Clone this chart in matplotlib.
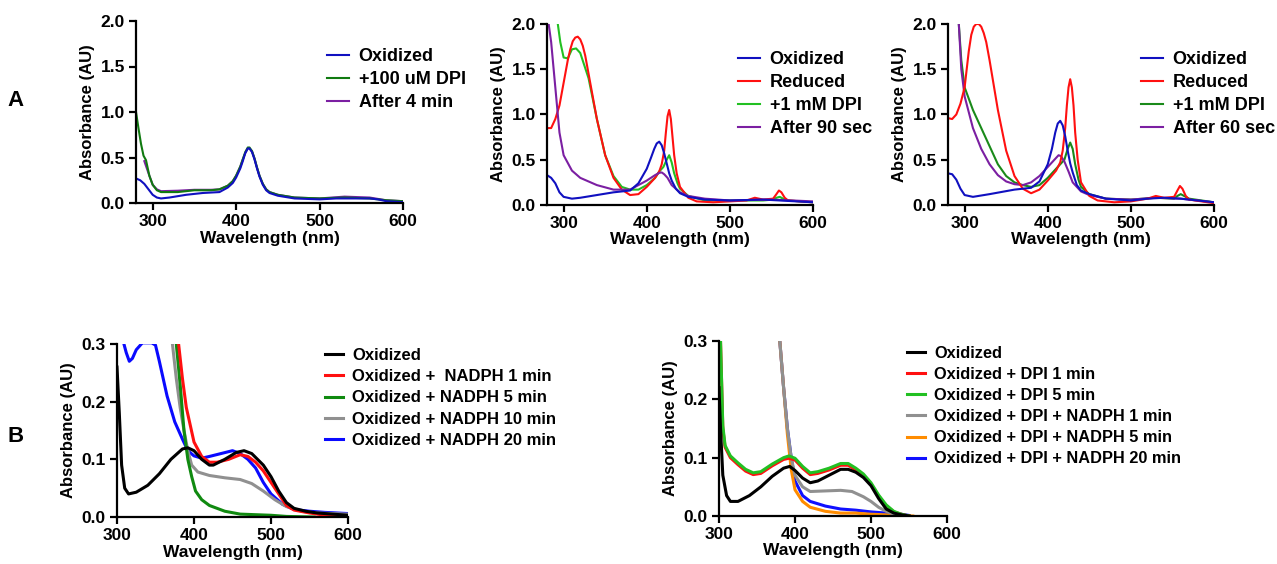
import matplotlib.pyplot as plt

plt.rcParams['font.family'] = ['Liberation Sans', 'DejaVu Sans']
plt.rcParams['font.weight'] = 'bold'

# ---------------- panel A1 ----------------
a1_ox_x = [280, 285, 290, 295, 300, 305, 310, 320, 340, 360, 380, 390, 396, 400, 405, 408, 411, 414, 416, 419, 422, 425, 428, 432, 436, 440, 450, 470, 500, 520, 540, 560, 570, 580, 600]
a1_ox_y = [0.27, 0.25, 0.21, 0.15, 0.09, 0.06, 0.05, 0.06, 0.09, 0.11, 0.12, 0.17, 0.22, 0.28, 0.38, 0.46, 0.55, 0.60, 0.60, 0.56, 0.48, 0.38, 0.29, 0.20, 0.14, 0.11, 0.08, 0.05, 0.04, 0.05, 0.05, 0.05, 0.04, 0.02, 0.01]
a1_dpi_x = [280, 283, 286, 289, 292, 296, 300, 305, 310, 330, 350, 370, 380, 390, 396, 400, 405, 408, 411, 414, 416, 419, 422, 425, 428, 432, 436, 440, 450, 470, 500, 530, 560, 580, 600]
a1_dpi_y = [1.0, 0.82, 0.65, 0.52, 0.47, 0.30, 0.20, 0.14, 0.12, 0.12, 0.14, 0.14, 0.15, 0.19, 0.24, 0.30, 0.40, 0.48, 0.56, 0.61, 0.61, 0.57, 0.49, 0.39, 0.30, 0.21, 0.15, 0.12, 0.09, 0.06, 0.05, 0.06, 0.05, 0.03, 0.02]
a1_4m_x = [290, 296, 300, 305, 310, 330, 350, 370, 380, 390, 396, 400, 405, 408, 411, 414, 416, 419, 422, 425, 428, 432, 436, 440, 450, 470, 500, 530, 560, 580, 600]
a1_4m_y = [0.46, 0.30, 0.20, 0.15, 0.13, 0.135, 0.145, 0.145, 0.15, 0.19, 0.24, 0.30, 0.40, 0.48, 0.55, 0.60, 0.60, 0.57, 0.49, 0.39, 0.30, 0.21, 0.15, 0.12, 0.09, 0.06, 0.05, 0.07, 0.06, 0.03, 0.02]

# ---------------- panel A2 ----------------
a2_ox_x = [280, 285, 290, 295, 300, 310, 320, 340, 360, 380, 390, 400, 405, 409, 412, 415, 418, 421, 424, 427, 430, 435, 440, 450, 470, 500, 540, 560, 580, 600]
a2_ox_y = [0.33, 0.30, 0.24, 0.14, 0.09, 0.07, 0.08, 0.11, 0.14, 0.16, 0.24, 0.40, 0.52, 0.62, 0.68, 0.70, 0.66, 0.57, 0.46, 0.35, 0.27, 0.18, 0.13, 0.09, 0.06, 0.05, 0.06, 0.05, 0.04, 0.03]
a2_red_x = [280, 285, 290, 295, 300, 305, 308, 311, 314, 317, 320, 323, 326, 330, 340, 350, 360, 370, 380, 390, 400, 410, 415, 418, 421, 423, 425, 427, 429, 431, 433, 436, 440, 450, 460, 480, 500, 520, 530, 540, 552, 556, 559, 562, 566, 570, 600]
a2_red_y = [0.85, 0.85, 0.95, 1.10, 1.35, 1.60, 1.72, 1.81, 1.85, 1.86, 1.83, 1.76, 1.65, 1.45, 0.95, 0.55, 0.30, 0.17, 0.11, 0.12, 0.20, 0.30, 0.37, 0.45, 0.60, 0.80, 0.98, 1.05, 0.95, 0.75, 0.55, 0.35, 0.20, 0.08, 0.04, 0.03, 0.04, 0.05, 0.08, 0.06, 0.07, 0.12, 0.16, 0.14, 0.08, 0.05, 0.03]
a2_dpi_x = [293, 296, 300, 305, 310, 315, 320, 330, 340, 350, 360, 370, 380, 390, 400, 410, 415, 420, 424, 427, 430, 433, 437, 440, 450, 470, 500, 540, 552, 556, 560, 564, 570, 600]
a2_dpi_y = [2.0, 1.80, 1.63, 1.62, 1.72, 1.73, 1.68, 1.40, 0.95, 0.55, 0.32, 0.20, 0.17, 0.17, 0.22, 0.30, 0.37, 0.42, 0.50, 0.55, 0.47, 0.35, 0.24, 0.18, 0.10, 0.05, 0.05, 0.05, 0.06, 0.08, 0.09, 0.07, 0.05, 0.03]
a2_90s_x = [282, 285, 290, 295, 300, 310, 320, 340, 360, 380, 390, 400, 410, 415, 418, 421, 425, 430, 440, 450, 470, 500, 550, 600]
a2_90s_y = [2.0, 1.80, 1.30, 0.80, 0.55, 0.38, 0.30, 0.22, 0.17, 0.17, 0.22, 0.27, 0.33, 0.355, 0.36, 0.34, 0.30, 0.22, 0.14, 0.10, 0.07, 0.05, 0.06, 0.04]

# ---------------- panel A3 ----------------
a3_ox_x = [280, 285, 290, 295, 300, 310, 330, 360, 380, 390, 400, 405, 409, 412, 415, 418, 421, 424, 427, 430, 435, 440, 450, 470, 500, 520, 540, 560, 580, 600]
a3_ox_y = [0.35, 0.34, 0.28, 0.18, 0.11, 0.09, 0.12, 0.17, 0.19, 0.26, 0.45, 0.62, 0.80, 0.90, 0.93, 0.88, 0.76, 0.60, 0.46, 0.36, 0.22, 0.16, 0.12, 0.07, 0.05, 0.07, 0.08, 0.07, 0.05, 0.03]
a3_red_x = [280, 285, 290, 295, 300, 305, 308, 311, 314, 317, 320, 323, 326, 330, 340, 350, 360, 370, 380, 390, 400, 410, 415, 418, 421, 423, 425, 427, 429, 431, 433, 436, 440, 450, 460, 480, 500, 520, 530, 540, 552, 556, 559, 562, 566, 570, 600]
a3_red_y = [0.96, 0.95, 1.00, 1.12, 1.30, 1.70, 1.88, 1.97, 2.00, 2.00, 1.97, 1.90, 1.80, 1.60, 1.05, 0.60, 0.32, 0.18, 0.13, 0.17, 0.27, 0.38, 0.47, 0.60, 0.85, 1.10, 1.30, 1.39, 1.30, 1.10, 0.80, 0.50, 0.25, 0.10, 0.05, 0.03, 0.04, 0.07, 0.10, 0.08, 0.09, 0.16, 0.21, 0.18, 0.10, 0.06, 0.02]
a3_dpi_x = [293, 296, 300, 310, 320, 330, 340, 350, 360, 370, 380, 390, 400, 410, 420, 424, 427, 430, 433, 437, 440, 450, 470, 500, 530, 552, 556, 560, 564, 570, 600]
a3_dpi_y = [2.0, 1.60, 1.30, 1.05, 0.85, 0.65, 0.45, 0.32, 0.25, 0.22, 0.20, 0.22, 0.30, 0.40, 0.50, 0.62, 0.69, 0.62, 0.45, 0.28, 0.20, 0.12, 0.07, 0.06, 0.08, 0.07, 0.10, 0.12, 0.10, 0.07, 0.03]
a3_60s_x = [293, 296, 300, 310, 320, 330, 340, 350, 360, 370, 380, 390, 400, 410, 413, 416, 420, 425, 430, 440, 450, 470, 500, 530, 560, 600]
a3_60s_y = [2.0, 1.50, 1.20, 0.85, 0.62, 0.45, 0.33, 0.26, 0.23, 0.22, 0.25, 0.32, 0.42, 0.52, 0.55, 0.54, 0.48, 0.37, 0.25, 0.15, 0.11, 0.07, 0.06, 0.08, 0.07, 0.03]

# ---------------- panel B1 ----------------
b1_ox_x = [300, 303, 306, 310, 315, 325, 340, 355, 370, 385, 392, 400, 410, 420, 425, 440, 455, 465, 475, 490, 500, 510, 520, 530, 545, 560, 580, 600]
b1_ox_y = [0.26, 0.18, 0.09, 0.05, 0.04, 0.043, 0.055, 0.075, 0.10, 0.118, 0.12, 0.115, 0.10, 0.09, 0.09, 0.10, 0.112, 0.115, 0.11, 0.09, 0.07, 0.045, 0.025, 0.015, 0.01, 0.007, 0.005, 0.003]
b1_n1_x = [380, 385, 390, 395, 400, 410, 420, 430, 445, 460, 470, 480, 490, 500, 510, 520, 530, 550, 570, 600]
b1_n1_y = [0.30, 0.24, 0.19, 0.16, 0.13, 0.105, 0.095, 0.095, 0.10, 0.108, 0.105, 0.095, 0.08, 0.06, 0.04, 0.02, 0.012, 0.007, 0.003, 0.002]
b1_n5_x = [377, 382, 387, 392, 397, 402, 410, 420, 440, 460, 480, 500, 520, 556]
b1_n5_y = [0.30, 0.23, 0.15, 0.10, 0.07, 0.045, 0.03, 0.02, 0.01, 0.005, 0.004, 0.003, 0.001, 0.0]
b1_n10_x = [372, 377, 382, 387, 392, 397, 405, 420, 440, 460, 475, 490, 505, 520, 540, 560, 600]
b1_n10_y = [0.30, 0.24, 0.19, 0.15, 0.115, 0.09, 0.078, 0.072, 0.068, 0.065, 0.058, 0.045, 0.03, 0.018, 0.01, 0.007, 0.005]
b1_n20_x = [309, 312, 316, 320, 325, 333, 345, 350, 355, 365, 375, 385, 392, 400, 410, 420, 435, 450, 460, 470, 480, 490, 500, 515, 530, 550, 570, 600]
b1_n20_y = [0.30, 0.285, 0.27, 0.275, 0.29, 0.302, 0.302, 0.298, 0.27, 0.21, 0.165, 0.135, 0.115, 0.106, 0.102, 0.105, 0.11, 0.115, 0.11, 0.10, 0.085, 0.06, 0.04, 0.022, 0.013, 0.01, 0.008, 0.006]

# ---------------- panel B2 ----------------
b2_ox_x = [300, 302, 305, 310, 315, 325, 340, 355, 370, 385, 393, 400, 410, 420, 430, 445, 460, 470, 480, 490, 500, 510, 520, 530, 540, 550]
b2_ox_y = [0.22, 0.15, 0.07, 0.035, 0.025, 0.025, 0.035, 0.05, 0.068, 0.082, 0.085, 0.078, 0.065, 0.057, 0.06, 0.07, 0.08, 0.08, 0.075, 0.066, 0.052, 0.03, 0.012, 0.005, 0.002, 0.0]
b2_d1_x = [302, 305, 308, 315, 325, 335, 345, 355, 370, 385, 392, 400, 410, 420, 430, 445, 460, 470, 480, 490, 500, 510, 520, 530, 540, 550]
b2_d1_y = [0.30, 0.15, 0.118, 0.10, 0.088, 0.077, 0.071, 0.073, 0.086, 0.097, 0.099, 0.096, 0.082, 0.071, 0.073, 0.079, 0.087, 0.087, 0.079, 0.069, 0.054, 0.034, 0.017, 0.007, 0.003, 0.0]
b2_d5_x = [302, 305, 308, 315, 325, 335, 345, 355, 370, 385, 392, 400, 410, 420, 430, 445, 460, 470, 480, 490, 500, 510, 520, 530, 540, 550]
b2_d5_y = [0.30, 0.155, 0.121, 0.103, 0.091, 0.08, 0.074, 0.076, 0.089, 0.10, 0.103, 0.099, 0.085, 0.074, 0.076, 0.082, 0.09, 0.09, 0.082, 0.072, 0.057, 0.036, 0.019, 0.008, 0.003, 0.0]
b2_dn1_x = [380, 385, 390, 395, 400, 410, 420, 440, 460, 475, 490, 500, 510, 520, 530, 545]
b2_dn1_y = [0.30, 0.22, 0.15, 0.10, 0.07, 0.05, 0.042, 0.043, 0.044, 0.042, 0.033, 0.025, 0.015, 0.008, 0.003, 0.0]
b2_dn5_x = [380, 385, 390, 395, 400, 410, 420, 440, 460, 480, 500, 520, 555]
b2_dn5_y = [0.30, 0.22, 0.14, 0.08, 0.045, 0.025, 0.015, 0.008, 0.005, 0.005, 0.003, 0.002, 0.0]
b2_dn20_x = [380, 385, 390, 395, 400, 410, 420, 440, 460, 480, 500, 520, 540, 550]
b2_dn20_y = [0.30, 0.22, 0.15, 0.10, 0.06, 0.035, 0.025, 0.017, 0.012, 0.01, 0.007, 0.005, 0.003, 0.001]

W, H = 1277, 564
fig = plt.figure(figsize=(W / 100, H / 100), dpi=100)


def style_axis(ax, xlim, ylim, yticks):
    ax.set_xlim(*xlim)
    ax.set_ylim(*ylim)
    ax.set_xticks([300, 400, 500, 600])
    ax.set_yticks(yticks)
    ax.set_yticklabels(['%.1f' % v for v in yticks])
    for s in ['top', 'right']:
        ax.spines[s].set_visible(False)
    for s in ['left', 'bottom']:
        ax.spines[s].set_linewidth(1.6)
    ax.tick_params(width=1.6, length=5, labelsize=12.5, pad=3)
    for lab in ax.get_xticklabels() + ax.get_yticklabels():
        lab.set_fontweight('bold')
    ax.set_xlabel('Wavelength (nm)', fontsize=12.5, fontweight='bold', labelpad=1)
    ax.set_ylabel('Absorbance (AU)', fontsize=12, fontweight='bold', labelpad=4)


def add_legend(ax, handles, x, y, fs, spacing, hl):
    ax.legend(handles=handles, loc='upper left', bbox_to_anchor=(x / W, 1 - y / H),
              bbox_transform=fig.transFigure, frameon=False, handlelength=hl, handletextpad=0.55,
              labelspacing=spacing, borderpad=0, borderaxespad=0, prop={'weight': 'bold', 'size': fs})


# A1
ax = fig.add_axes([136 / W, 1 - 203 / H, 267 / W, 182 / H])
p, = ax.plot(a1_4m_x, a1_4m_y, color='#7b1fa2', lw=1.5, label='After 4 min')
g, = ax.plot(a1_dpi_x, a1_dpi_y, color='#107a10', lw=1.5, label='+100 uM DPI')
b, = ax.plot(a1_ox_x, a1_ox_y, color='#1010c0', lw=1.5, label='Oxidized')
style_axis(ax, (280, 600), (0, 2.0), [0, 0.5, 1.0, 1.5, 2.0])
add_legend(ax, [b, g, p], 327, 48, 13, 0.33, 1.2)

# A2
ax = fig.add_axes([547 / W, 1 - 205 / H, 266 / W, 181 / H])
g, = ax.plot(a2_dpi_x, a2_dpi_y, color='#22c022', lw=1.5, label='+1 mM DPI')
r, = ax.plot(a2_red_x, a2_red_y, color='#ff1010', lw=1.5, label='Reduced')
p, = ax.plot(a2_90s_x, a2_90s_y, color='#7b1fa2', lw=1.5, label='After 90 sec')
b, = ax.plot(a2_ox_x, a2_ox_y, color='#1010c0', lw=1.5, label='Oxidized')
style_axis(ax, (280, 600), (0, 2.0), [0, 0.5, 1.0, 1.5, 2.0])
add_legend(ax, [b, r, g, p], 738, 51, 13, 0.33, 1.2)

# A3
ax = fig.add_axes([948 / W, 1 - 205 / H, 266 / W, 181 / H])
g, = ax.plot(a3_dpi_x, a3_dpi_y, color='#1a8a1a', lw=1.5, label='+1 mM DPI')
p, = ax.plot(a3_60s_x, a3_60s_y, color='#7b1fa2', lw=1.5, label='After 60 sec')
r, = ax.plot(a3_red_x, a3_red_y, color='#ff1010', lw=1.5, label='Reduced')
b, = ax.plot(a3_ox_x, a3_ox_y, color='#1010c0', lw=1.5, label='Oxidized')
style_axis(ax, (280, 600), (0, 2.0), [0, 0.5, 1.0, 1.5, 2.0])
add_legend(ax, [b, r, g, p], 1141, 51, 13, 0.33, 1.2)

# B1
ax = fig.add_axes([117 / W, 1 - 517 / H, 231 / W, 173 / H])
bl, = ax.plot(b1_n20_x, b1_n20_y, color='#0a0aff', lw=2.2, label='Oxidized + NADPH 20 min')
gr, = ax.plot(b1_n10_x, b1_n10_y, color='#909090', lw=2.2, label='Oxidized + NADPH 10 min')
gn, = ax.plot(b1_n5_x, b1_n5_y, color='#108a10', lw=2.2, label='Oxidized + NADPH 5 min')
rd, = ax.plot(b1_n1_x, b1_n1_y, color='#ff1010', lw=2.2, label='Oxidized +  NADPH 1 min')
bk, = ax.plot(b1_ox_x, b1_ox_y, color='#000000', lw=2.2, label='Oxidized')
style_axis(ax, (300, 600), (0, 0.3), [0, 0.1, 0.2, 0.3])
add_legend(ax, [bk, rd, gn, gr, bl], 325, 348, 12, 0.37, 1.1)

# B2
ax = fig.add_axes([719 / W, 1 - 516 / H, 228 / W, 175 / H])
bl, = ax.plot(b2_dn20_x, b2_dn20_y, color='#1010ff', lw=2.2, label='Oxidized + DPI + NADPH 20 min')
og, = ax.plot(b2_dn5_x, b2_dn5_y, color='#ff8c00', lw=2.2, label='Oxidized + DPI + NADPH 5 min')
gr, = ax.plot(b2_dn1_x, b2_dn1_y, color='#909090', lw=2.2, label='Oxidized + DPI + NADPH 1 min')
rd, = ax.plot(b2_d1_x, b2_d1_y, color='#ff1010', lw=2.2, label='Oxidized + DPI 1 min')
gn, = ax.plot(b2_d5_x, b2_d5_y, color='#22c022', lw=2.2, label='Oxidized + DPI 5 min')
bk, = ax.plot(b2_ox_x, b2_ox_y, color='#000000', lw=2.2, label='Oxidized')
style_axis(ax, (300, 600), (0, 0.3), [0, 0.1, 0.2, 0.3])
add_legend(ax, [bk, rd, gn, gr, og, bl], 907, 346, 11.8, 0.37, 1.1)

fig.text(16 / W, 1 - 100 / H, 'A', fontsize=16, fontweight='bold', ha='center', va='center')
fig.text(16 / W, 1 - 437 / H, 'B', fontsize=16, fontweight='bold', ha='center', va='center')

fig.savefig('out.png', dpi=100)
